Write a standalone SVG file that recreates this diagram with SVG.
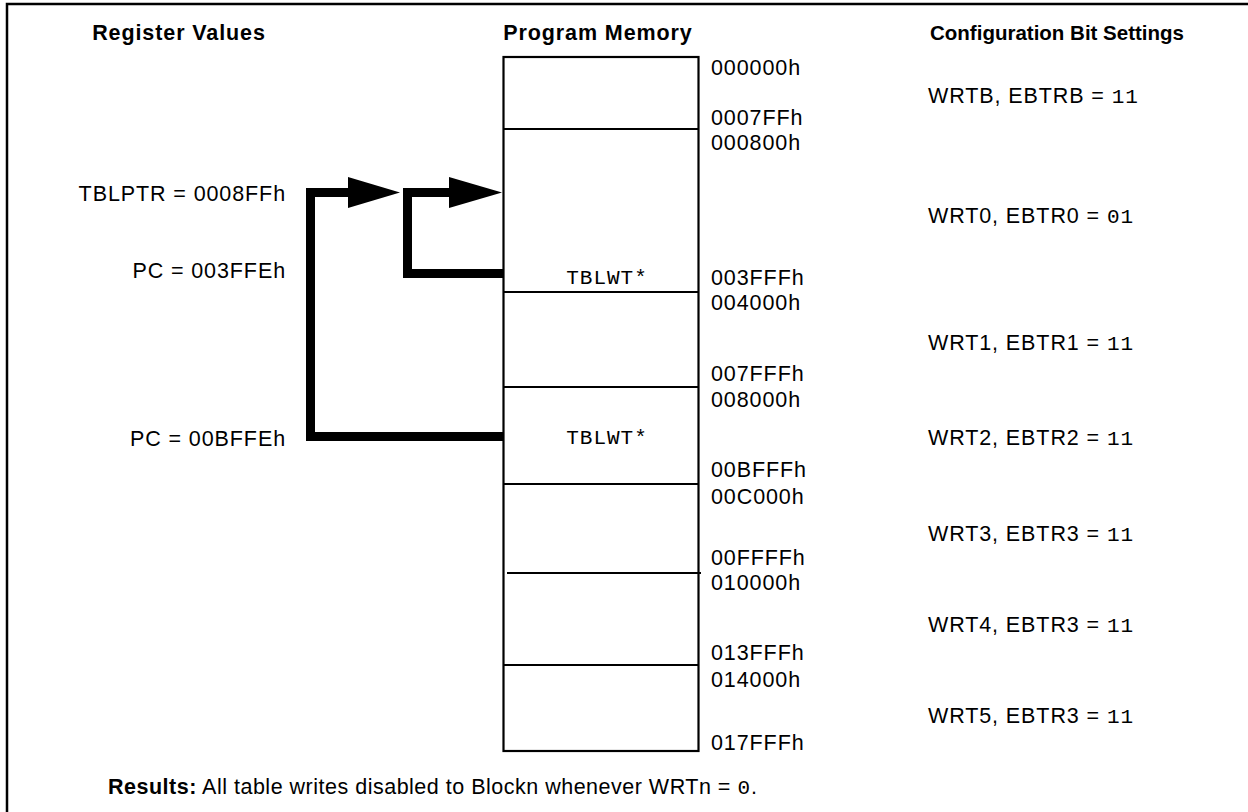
<svg xmlns="http://www.w3.org/2000/svg" width="1248" height="812" viewBox="0 0 1248 812">
<style>
.t{font-family:"Liberation Sans",Arial,sans-serif;font-size:21.5px;letter-spacing:0.9px;fill:#000}
.b{font-weight:bold}
.h3{font-size:20.5px;letter-spacing:0}
.m{font-family:"Liberation Mono","Courier New",monospace;font-size:21px;letter-spacing:1px}
.r{letter-spacing:0.5px}
.mem{fill:none;stroke:#000;stroke-width:2.2}
.conn{fill:none;stroke:#000;stroke-width:9;stroke-linejoin:miter;stroke-linecap:butt}
</style>
<rect width="1248" height="812" fill="#fff"/>
<path d="M7,812 V4 H1248" fill="none" stroke="#000" stroke-width="2.5"/>
<text class="t b" x="179" y="40" text-anchor="middle">Register Values</text>
<text class="t b" x="598" y="40" text-anchor="middle">Program Memory</text>
<text class="t b h3" x="1057" y="40" text-anchor="middle">Configuration Bit Settings</text>
<g id="registers">
<text class="t" x="286" y="201" text-anchor="end">TBLPTR = 0008FFh</text>
<text class="t" x="286" y="278" text-anchor="end">PC = 003FFEh</text>
<text class="t" x="286" y="446" text-anchor="end">PC = 00BFFEh</text>
</g>
<g id="memory">
<rect class="mem" x="503.5" y="57" width="195" height="694"/>
<line class="mem" x1="503.5" y1="129" x2="698.5" y2="129"/>
<line class="mem" x1="503.5" y1="292" x2="698.5" y2="292"/>
<line class="mem" x1="503.5" y1="387" x2="698.5" y2="387"/>
<line class="mem" x1="503.5" y1="484" x2="698.5" y2="484"/>
<line class="mem" x1="507" y1="573" x2="701" y2="573"/>
<line class="mem" x1="503.5" y1="665" x2="698.5" y2="665"/>
<text class="t m" x="607" y="284" text-anchor="middle">TBLWT*</text>
<text class="t m" x="607" y="444" text-anchor="middle">TBLWT*</text>
</g>
<g id="addresses">
<text class="t" x="711" y="75">000000h</text>
<text class="t" x="711" y="125">0007FFh</text>
<text class="t" x="711" y="150">000800h</text>
<text class="t" x="711" y="285">003FFFh</text>
<text class="t" x="711" y="310">004000h</text>
<text class="t" x="711" y="381">007FFFh</text>
<text class="t" x="711" y="407">008000h</text>
<text class="t" x="711" y="477">00BFFFh</text>
<text class="t" x="711" y="504">00C000h</text>
<text class="t" x="711" y="565">00FFFFh</text>
<text class="t" x="711" y="590">010000h</text>
<text class="t" x="711" y="660">013FFFh</text>
<text class="t" x="711" y="687">014000h</text>
<text class="t" x="711" y="750">017FFFh</text>
</g>
<g id="config">
<text class="t" x="928" y="103">WRTB, EBTRB = <tspan class="m">11</tspan></text>
<text class="t" x="928" y="223">WRT0, EBTR0 = <tspan class="m">01</tspan></text>
<text class="t" x="928" y="350">WRT1, EBTR1 = <tspan class="m">11</tspan></text>
<text class="t" x="928" y="445">WRT2, EBTR2 = <tspan class="m">11</tspan></text>
<text class="t" x="928" y="541">WRT3, EBTR3 = <tspan class="m">11</tspan></text>
<text class="t" x="928" y="632">WRT4, EBTR3 = <tspan class="m">11</tspan></text>
<text class="t" x="928" y="723">WRT5, EBTR3 = <tspan class="m">11</tspan></text>
</g>
<g id="connectors">
<path class="conn" d="M503,436.5 H310.5 V192.5 H352"/>
<polygon points="348,177 400,192.5 348,208" fill="#000"/>
<path class="conn" d="M503,273.5 H407.5 V192.5 H453"/>
<polygon points="449,177 502,192.5 449,208" fill="#000"/>
</g>
<text class="t r" x="108" y="794"><tspan class="b">Results:</tspan> All table writes disabled to Blockn whenever WRTn = <tspan class="m">0</tspan>.</text>
</svg>
